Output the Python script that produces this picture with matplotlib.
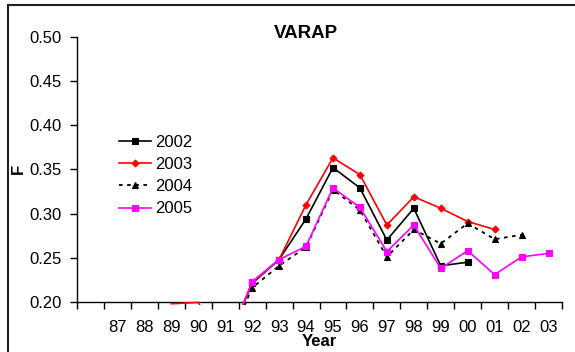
import matplotlib
matplotlib.use("Agg")
import matplotlib.pyplot as plt
from matplotlib.patches import Rectangle
import numpy as np

plt.rcParams['font.family'] = ['Liberation Sans', 'DejaVu Sans']

# Categories along the x axis (first slot is left blank)
years = ['', '87', '88', '89', '90', '91', '92', '93', '94', '95',
         '96', '97', '98', '99', '00', '01', '02', '03']

# Fishing mortality F by assessment year
f_2002 = [None, None, None, None, None, 0.148, 0.221, 0.248, 0.294, 0.352,
          0.329, 0.270, 0.306, 0.241, 0.245, None, None, None]
f_2003 = [None, None, None, 0.198, 0.1995, 0.149, 0.222, 0.248, 0.310, 0.363,
          0.344, 0.287, 0.319, 0.306, 0.291, 0.282, None, None]
f_2004 = [None, None, None, None, None, 0.145, 0.216, 0.241, 0.262, 0.327,
          0.304, 0.251, 0.282, 0.266, 0.289, 0.271, 0.276, None]
f_2005 = [None, None, None, None, None, 0.146, 0.223, 0.248, 0.263, 0.329,
          0.307, 0.257, 0.287, 0.238, 0.258, 0.231, 0.251, 0.255]

series_labels = ['2002', '2003', '2004', '2005']

W, H = 575, 352
fig = plt.figure(figsize=(W / 100, H / 100), dpi=100)

# outer frame
fig.patches.append(Rectangle((8 / W, -0.1), 1.2, (H - 5) / H + 0.1,
                             transform=fig.transFigure, fill=False,
                             edgecolor='#222222', linewidth=1.5))

ax_l, ax_r, ax_t, ax_b = 77, 562, 36.7, 302
ax = fig.add_axes([ax_l / W, (H - ax_b) / H, (ax_r - ax_l) / W, (ax_b - ax_t) / H])
ax.set_facecolor('none')
aw, ah = ax_r - ax_l, ax_b - ax_t

y_min, y_max = 0.20, 0.50
x = np.arange(len(years))

def to_arr(v):
    return np.array([np.nan if a is None else a for a in v], dtype=float)

styles = [
    dict(color='black', marker='s', markersize=4, linestyle='-', linewidth=1.2),
    dict(color='red', marker='D', markersize=3.5, linestyle='-', linewidth=1.2),
    dict(color='black', marker='^', markersize=5, linestyle=(0, (2, 2.5)), linewidth=1.3),
    dict(color='magenta', marker='s', markersize=5, linestyle='-', linewidth=1.2),
]

# lines may run a hair below the axis; markers only inside the plot range
clip_rect = Rectangle((0, -0.012), 1, 1.05, transform=ax.transAxes)
for vals, lab, st in zip([f_2002, f_2003, f_2004, f_2005], series_labels, styles):
    arr = to_arr(vals)
    shown = [i for i, v in enumerate(arr) if np.isfinite(v) and v >= y_min]
    ln, = ax.plot(x, arr, label=lab, markeredgewidth=0.8, zorder=3,
                  markevery=shown, **st)
    ln.set_clip_path(clip_rect)

ax.set_xlim(-0.5, len(years) - 0.5)
ax.set_ylim(y_min, y_max)

# tick marks on category boundaries, labels at category centres
ax.set_xticks(np.arange(-0.5, len(years) + 0.5, 1.0))
ax.set_xticklabels([])
ax.set_xticks(x, minor=True)
ax.set_xticklabels(years, minor=True, fontsize=12)
ax.tick_params(axis='x', which='major', direction='out', length=5, width=1)
ax.tick_params(axis='x', which='minor', length=0, pad=13)

yt = np.arange(0.20, 0.501, 0.05)
ax.set_yticks(yt)
ax.set_yticklabels([f'{v:.2f}' for v in yt], fontsize=12)
ax.tick_params(axis='y', direction='out', length=5, width=1, pad=6)

for s in ['top', 'right']:
    ax.spines[s].set_visible(False)
for s in ['left', 'bottom']:
    ax.spines[s].set_linewidth(1.0)

ax.set_xlabel('Year', fontsize=12, fontweight='bold')
ax.xaxis.set_label_coords(0.5, (ax_b - 333.5) / ah)
ax.set_ylabel('F', fontsize=12, fontweight='bold')
ax.yaxis.set_label_coords((26 - ax_l) / aw, 0.5)

fig.text(306 / W, 1 - 33 / H, 'VARAP', fontsize=13.5, fontweight='bold',
         ha='center', va='center')

ax.legend(loc='upper left',
          bbox_to_anchor=((119 - ax_l) / aw, (ax_b - 135) / ah),
          frameon=False, fontsize=12, handlelength=1.9, handletextpad=0.26,
          labelspacing=0.43, borderpad=0, borderaxespad=0)

fig.savefig('out.png', dpi=100)
